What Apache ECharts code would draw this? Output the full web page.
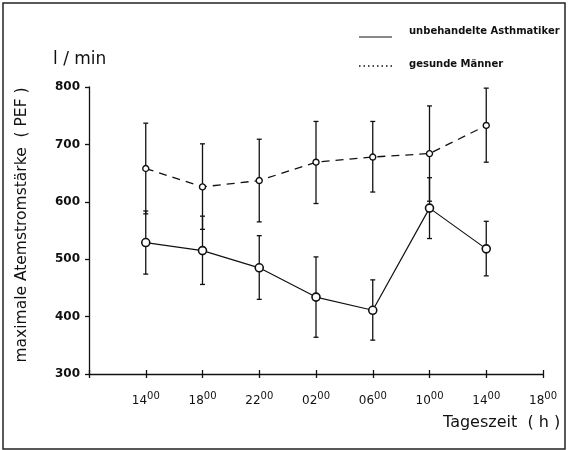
<!DOCTYPE html>
<html><head><meta charset="utf-8">
<script src="https://cdn.jsdelivr.net/npm/echarts@6/dist/echarts.min.js"></script>
<style>html,body{margin:0;padding:0;background:#fff}#c{width:568px;height:450px}</style>
</head><body><div id="c"></div>
<script>
const xLabels = ['', '14', '18', '22', '02', '06', '10', '14', '18'];
const xPos = [1, 2, 3, 4, 5, 6, 7];
const asthmaMean = [529, 515, 485, 434, 411, 589, 518];
const asthmaHigh = [584, 575, 541, 504, 464, 642, 566];
const asthmaLow  = [474, 456, 430, 364, 359, 536, 471];
const healthyMean = [658, 626, 637, 669, 678, 684, 733];
const healthyHigh = [737, 701, 709, 740, 740, 767, 798];
const healthyLow  = [579, 552, 565, 597, 617, 601, 669];
const yTicks = [300, 400, 500, 600, 700, 800];

const F = '"DejaVu Sans", sans-serif';
const chart = echarts.init(document.getElementById('c'));

function errData(high, low) { return xPos.map((x, i) => [x, low[i], high[i]]); }
function errSeries(high, low) {
  return {
    type: 'custom', z: 1, silent: true,
    data: errData(high, low),
    renderItem: function (params, api) {
      const x = api.value(0);
      const p1 = api.coord([x, api.value(1)]);
      const p2 = api.coord([x, api.value(2)]);
      const s = { stroke: '#111', lineWidth: 1.3 };
      return { type: 'group', children: [
        { type: 'line', shape: { x1: p1[0], y1: p1[1], x2: p2[0], y2: p2[1] }, style: s },
        { type: 'line', shape: { x1: p1[0] - 2.5, y1: p1[1], x2: p1[0] + 2.5, y2: p1[1] }, style: s },
        { type: 'line', shape: { x1: p2[0] - 2.5, y1: p2[1], x2: p2[0] + 2.5, y2: p2[1] }, style: s }
      ]};
    }
  };
}

chart.setOption({
  animation: false,
  grid: { left: 89, right: 25, top: 87, bottom: 76 },
  xAxis: [{
    type: 'value', min: 0, max: 8, interval: 1,
    axisLine: { lineStyle: { color: '#111', width: 1.3 } },
    axisTick: { length: 4, lineStyle: { color: '#111', width: 1.3 } },
    splitLine: { show: false },
    axisLabel: {
      margin: 15,
      formatter: v => v === 0 ? '' : '{b|' + xLabels[v] + '}{s|00}',
      rich: {
        b: { fontFamily: F, fontSize: 12, color: '#111', padding: [6, 0, 0, 0] },
        s: { fontFamily: F, fontSize: 10, color: '#111', padding: [0, 0, 4, 0] }
      }
    }
  }, {
    type: 'value', min: 0, max: 8, interval: 1, position: 'bottom',
    axisLine: { show: false }, axisLabel: { show: false }, splitLine: { show: false },
    axisTick: { inside: true, length: 4, lineStyle: { color: '#111', width: 1.3 } }
  }],
  yAxis: {
    type: 'value', min: 300, max: 800, interval: 100,
    axisLine: { show: true, lineStyle: { color: '#111', width: 1.3 } },
    axisTick: { show: true, length: 4, lineStyle: { color: '#111', width: 1.3 } },
    splitLine: { show: false },
    axisLabel: { margin: 9, fontFamily: F, fontSize: 12, fontWeight: 'bold', color: '#111',
      formatter: v => yTicks.includes(v) ? String(v) : '' }
  },
  series: [
    errSeries(healthyHigh, healthyLow),
    errSeries(asthmaHigh, asthmaLow),
    {
      type: 'line', name: 'gesunde Männer', z: 3,
      data: xPos.map((x, i) => [x, healthyMean[i]]),
      symbol: 'circle', symbolSize: 6,
      itemStyle: { color: '#fff', borderColor: '#111', borderWidth: 1.4 },
      lineStyle: { color: '#111', width: 1.3, type: [8, 6] }
    },
    {
      type: 'line', name: 'unbehandelte Asthmatiker', z: 3,
      data: xPos.map((x, i) => [x, asthmaMean[i]]),
      symbol: 'circle', symbolSize: 8,
      itemStyle: { color: '#fff', borderColor: '#111', borderWidth: 1.6 },
      lineStyle: { color: '#111', width: 1.2 }
    }
  ],
  graphic: [
    { type: 'rect', shape: { x: 3, y: 3, width: 562, height: 446 }, style: { fill: 'none', stroke: '#222', lineWidth: 1.5 } },
    { type: 'line', shape: { x1: 359, y1: 37, x2: 392, y2: 37 }, style: { stroke: '#111', lineWidth: 1.2 } },
    { type: 'line', shape: { x1: 359, y1: 66, x2: 393, y2: 66 }, style: { stroke: '#111', lineWidth: 1.5, lineDash: [1.5, 3] } },
    { type: 'text', left: 409, top: 26, style: { text: 'unbehandelte Asthmatiker', font: 'bold 10px ' + F, fill: '#111' } },
    { type: 'text', left: 409, top: 59, style: { text: 'gesunde Männer', font: 'bold 10px ' + F, fill: '#111' } },
    { type: 'text', left: 53, top: 51, style: { text: 'l / min', font: '17px ' + F, fill: '#111' } },
    { type: 'text', left: 443, top: 415, style: { text: 'Tageszeit  ( h )', font: '16px ' + F, fill: '#111' } },
    { type: 'text', x: 22, y: 225, rotation: Math.PI / 2, style: { text: 'maximale Atemstromstärke  ( PEF )', font: '15.5px ' + F, fill: '#111', align: 'center', verticalAlign: 'middle' } }
  ]
});
</script></body></html>
